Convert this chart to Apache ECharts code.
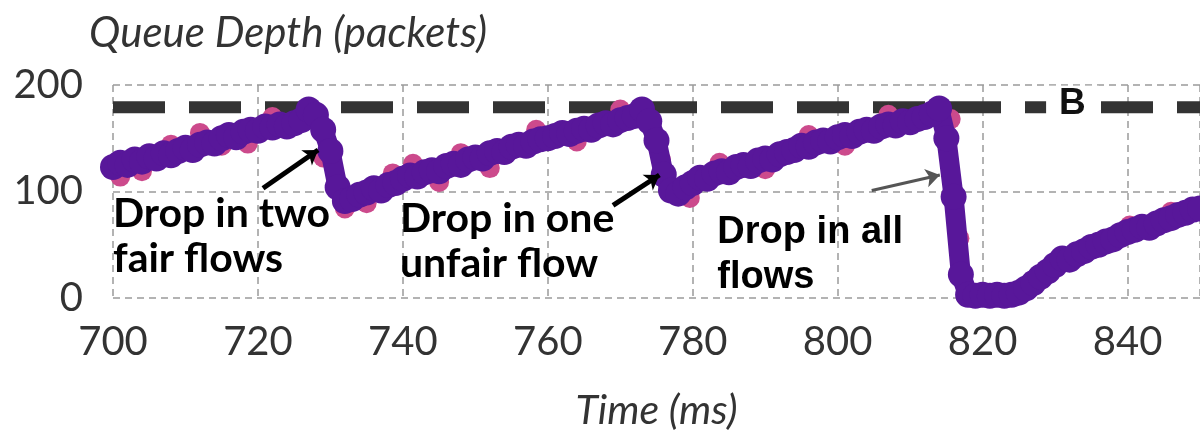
<!DOCTYPE html>
<html>
<head>
<meta charset="utf-8">
<title>Queue Depth</title>
<script src="https://cdn.jsdelivr.net/npm/echarts@6/dist/echarts.min.js"></script>
<style>
    html, body { margin: 0; padding: 0; background: #fff; }
    #chart { width: 1200px; height: 434px; }
</style>
</head>
<body>
<div id="chart"></div>
<script>
(function () {

    'use strict';

    // time axis (ms), one sample per ms
    var timeStart = 700;
    var queueDepth = [
        123, 127, 125, 130, 128, 133, 131, 136, 134, 138,
        141, 139, 144, 146, 145, 150, 153, 151, 156, 158,
        157, 161, 160, 163, 161, 164, 167, 177, 172, 158,
        138, 104, 91, 93, 97, 99, 103, 101, 106, 108,
        112, 115, 114, 118, 120, 119, 124, 126, 125, 130,
        132, 131, 136, 138, 137, 142, 144, 143, 147, 149,
        150, 152, 155, 154, 157, 159, 158, 162, 164, 163,
        167, 169, 171, 177, 166, 148, 116, 101, 98, 104,
        108, 113, 112, 117, 119, 118, 123, 125, 124, 129,
        131, 130, 135, 137, 139, 143, 142, 146, 148, 147,
        151, 153, 152, 156, 158, 157, 161, 163, 162, 166,
        165, 168, 170, 173, 178, 150, 95, 22, 3, 2,
        3, 2, 3, 2, 3, 5, 9, 14, 20, 25,
        31, 37, 36, 41, 44, 48, 50, 53, 55, 59,
        62, 64, 67, 66, 70, 73, 75, 78, 80, 83,
        84
    ];

    // pink samples peeking out around the purple band
    var pinkPoints = [
        [701, 114], [704, 119], [708, 144], [712, 155], [715, 143],
        [718.6, 145], [722, 170], [729, 132], [732, 84], [735, 89],
        [738.6, 117], [741.4, 126], [745, 109], [748, 136], [752, 122],
        [758.4, 158], [764, 147], [770, 177], [775.6, 130], [779.6, 94],
        [783.7, 127], [790, 121], [796, 153], [801, 143], [807, 172],
        [815.6, 168], [816.8, 56], [818, 7], [828, 17], [834, 46],
        [840.3, 68], [846, 81]
    ];

    var bufferLevel = 179;
    var bufferLine = [[700, bufferLevel], [850, bufferLevel]];
    var bufferTag = [[832.4, 182]];

    var notes = [
        {value: [700, 57.7], text: 'Drop in two\nfair flows', font: 'Lato'},
        {value: [739.6, 53], text: 'Drop in one\nunfair flow', font: 'Lato'},
        {value: [783.4, 40.4], text: 'Drop in all\nflows', font: 'Liberation Sans, Arial'}
    ];

    var arrows = [
        {coords: [[720.7, 103], [728.3, 139]], color: '#000', width: 5},
        {coords: [[769, 87], [775.4, 115.5]], color: '#000', width: 5},
        {coords: [[804.7, 101], [814.1, 115.5]], color: '#555', width: 3}
    ];

    var purpleData = queueDepth.map(function (v, i) {
        return [timeStart + i, v];
    });

    var gridLine = {
        show: true,
        lineStyle: {color: '#9a9a9a', width: 1.5, type: [7, 5]}
    };

    var chart = echarts.init(document.getElementById('chart'));

    chart.setOption({
        animation: false,
        title: {
            text: 'Queue Depth (packets)',
            left: 84,
            top: 7,
            textStyle: {
                fontFamily: 'Lato',
                fontStyle: 'italic',
                fontWeight: 'normal',
                fontSize: 42,
                color: '#333'
            }
        },
        grid: {left: 113, right: 0, top: 85, bottom: 136},
        xAxis: {
            type: 'value',
            min: 700,
            max: 850,
            interval: 20,
            axisLine: {show: false},
            axisTick: {show: false},
            splitLine: gridLine,
            axisLabel: {
                fontFamily: 'Lato',
                fontSize: 40,
                color: '#333',
                margin: 24,
                showMaxLabel: false
            },
            name: 'Time (ms)',
            nameLocation: 'middle',
            nameGap: 92,
            nameTextStyle: {
                fontFamily: 'Lato',
                fontStyle: 'italic',
                fontSize: 41,
                color: '#333'
            }
        },
        yAxis: {
            type: 'value',
            min: 0,
            max: 200,
            interval: 100,
            axisLine: {show: false},
            axisTick: {show: false},
            splitLine: gridLine,
            axisLabel: {
                fontFamily: 'Lato',
                fontSize: 40,
                color: '#333',
                margin: 30
            }
        },
        series: [
            {
                name: 'B',
                type: 'line',
                z: 1,
                data: bufferLine,
                symbol: 'none',
                lineStyle: {color: '#333', width: 12, type: [52, 24]}
            },
            {
                name: 'B label',
                type: 'scatter',
                z: 2,
                data: bufferTag,
                symbolSize: 0,
                itemStyle: {opacity: 1},
                label: {
                    show: true,
                    position: 'inside',
                    formatter: 'B',
                    fontFamily: 'Liberation Sans, Arial',
                    fontWeight: 'bold',
                    fontSize: 37,
                    color: '#111',
                    backgroundColor: '#fff',
                    padding: [0, 13, 0, 13]
                }
            },
            {
                name: 'pink',
                type: 'scatter',
                z: 3,
                data: pinkPoints,
                symbolSize: 20,
                itemStyle: {color: '#cc4a8c', opacity: 1}
            },
            {
                name: 'queue',
                type: 'line',
                z: 4,
                data: purpleData,
                symbol: 'circle',
                symbolSize: 26,
                showAllSymbol: true,
                lineStyle: {color: '#58179a', width: 20},
                itemStyle: {color: '#58179a'}
            },
            {
                name: 'arrows',
                type: 'lines',
                coordinateSystem: 'cartesian2d',
                z: 5,
                symbol: ['none', 'arrow'],
                symbolSize: 14,
                data: arrows.map(function (a) {
                    return {coords: a.coords, lineStyle: {color: a.color, width: a.width, opacity: 1}};
                })
            },
            {
                name: 'notes',
                type: 'scatter',
                z: 6,
                symbolSize: 0,
                itemStyle: {opacity: 1},
                data: notes.map(function (n) {
                    return {
                        value: n.value,
                        label: {
                            formatter: n.text,
                            fontFamily: n.font,
                            fontSize: n.font === 'Lato' ? 41 : 38
                        }
                    };
                }),
                label: {
                    show: true,
                    position: 'right',
                    distance: 0,
                    align: 'left',
                    verticalAlign: 'middle',
                    fontWeight: 'bold',
                    lineHeight: 45,
                    color: '#000'
                }
            }
        ]
    });
})();
</script>
</body>
</html>
